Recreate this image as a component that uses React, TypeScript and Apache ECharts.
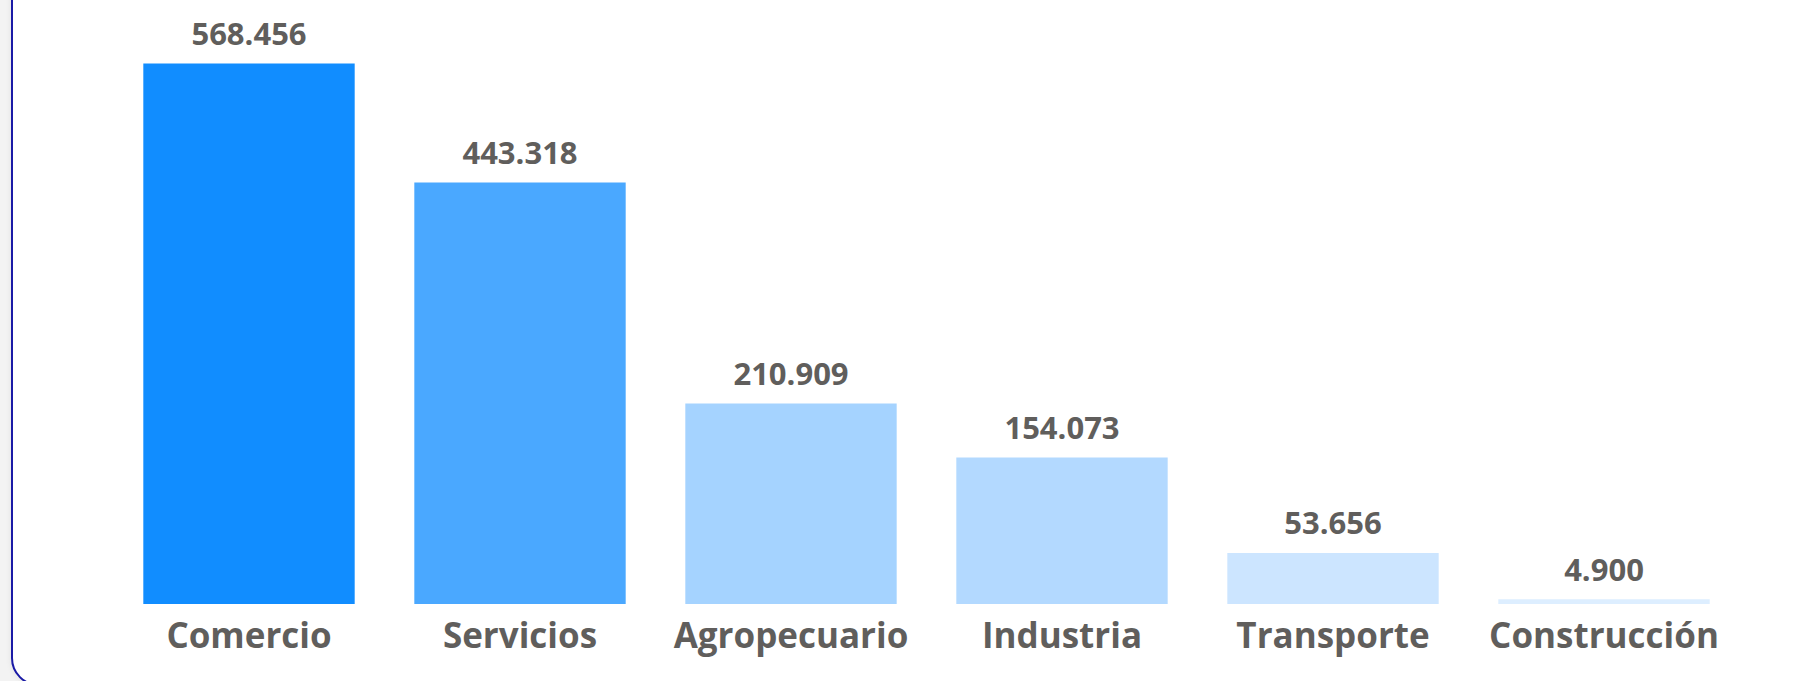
import React, { useEffect, useRef } from "react";
import * as echarts from "echarts";

const categories = ["Comercio", "Servicios", "Agropecuario", "Industria", "Transporte", "Construcción"];
const values = [568.456, 443.318, 210.909, 154.073, 53.656, 4.9];
const barColors = ["#118DFF", "#4AA8FF", "#A5D3FF", "#B3D9FF", "#CCE5FF", "#DDEEFF"];

const fmt = (v: number) => v.toFixed(3);

export default function App() {
  const ref = useRef<HTMLDivElement>(null);
  useEffect(() => {
    if (!ref.current) return;
    const chart = echarts.init(ref.current, undefined, { renderer: "svg" });
    chart.setOption({
      animation: false,
      grid: { left: 113.5, right: 75.5, top: 63.5, bottom: 77, containLabel: false },
      xAxis: {
        type: "category",
        data: categories,
        axisLine: { show: false },
        axisTick: { show: false },
        axisLabel: {
          interval: 0,
          color: "#605E5C",
          fontFamily: "Open Sans",
          fontWeight: "bold",
          fontSize: 35,
          margin: 13,
        },
      },
      yAxis: {
        type: "value",
        min: 0,
        max: values[0],
        show: false,
        splitLine: { show: false },
      },
      series: [
        {
          type: "bar",
          data: values.map((v, i) => ({ value: v, itemStyle: { color: barColors[i] } })),
          barCategoryGap: "22%",
          label: {
            show: true,
            position: "top",
            distance: 15,
            color: "#605E5C",
            fontFamily: "Open Sans",
            fontWeight: "bold",
            fontSize: 31,
            formatter: (p: any) => fmt(p.value),
          },
        },
      ],
    });
    return () => chart.dispose();
  }, []);

  return (
    <div style={{ position: "fixed", left: 0, top: 0, width: 1815, height: 681, overflow: "hidden", background: "#F3F3F3" }}>
      <div
        style={{
          position: "absolute",
          left: 11,
          top: -40,
          width: 1860,
          height: 726,
          boxSizing: "border-box",
          border: "2px solid #1A1AA6",
          borderRadius: 28,
          background: "#FFFFFF",
          boxShadow: "0 0 6px rgba(0,0,0,0.08)",
        }}
      />
      <div ref={ref} style={{ position: "absolute", left: 0, top: 0, width: 1815, height: 681 }} />
    </div>
  );
}
